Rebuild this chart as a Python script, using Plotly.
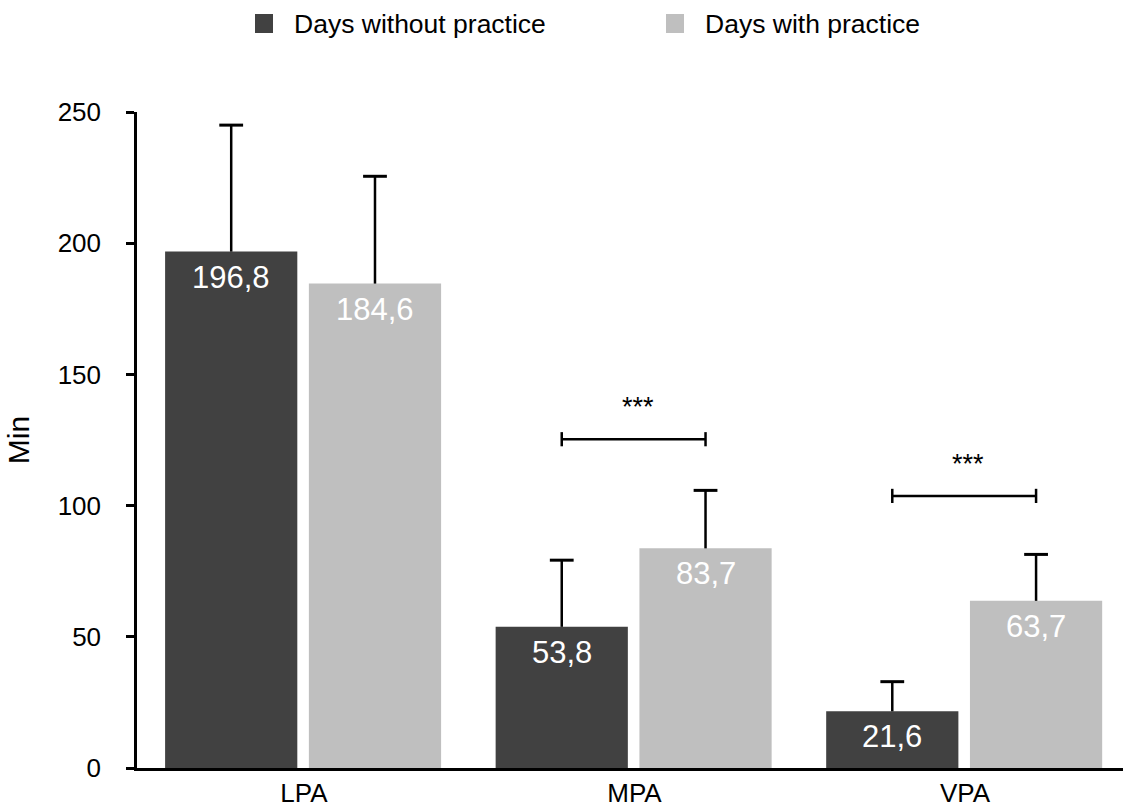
import plotly.graph_objects as go

# Physical activity minutes by intensity, days without vs. with practice
categories = ["LPA", "MPA", "VPA"]
series_names = ["Days without practice", "Days with practice"]
mean_without = [196.8, 53.8, 21.6]
sd_without = [48.2, 25.4, 11.3]
mean_with = [184.6, 83.7, 63.7]
sd_with = [40.9, 22.1, 17.7]

# Significance brackets (category index of the comparison) and their labels
sig_categories = [1, 2]
sig_levels = [125.3, 103.7]
sig_labels = ["***", "***"]

y_ticks = [0, 50, 100, 150, 200, 250]

DARK = "#414141"
LIGHT = "#bfbfbf"
FONT = "Liberation Sans, Arial, Helvetica, sans-serif"

BAR_W = 0.40
OFF_DARK = -0.42
OFF_LIGHT = 0.015

xs = list(range(len(categories)))
x_dark = [x + OFF_DARK + BAR_W / 2 for x in xs]
x_light = [x + OFF_LIGHT + BAR_W / 2 for x in xs]

fig = go.Figure()

for name, vals, color, off in [
    (series_names[0], mean_without, DARK, OFF_DARK),
    (series_names[1], mean_with, LIGHT, OFF_LIGHT),
]:
    fig.add_trace(go.Bar(
        name=name,
        x=xs,
        y=vals,
        width=BAR_W,
        offset=off,
        marker=dict(color=color, line=dict(width=0)),
        showlegend=False,
        hoverinfo="skip",
    ))

# Upper-only error bars: a stem from the bar top plus a cap at mean + SD
for xc, vals, sds in [(x_dark, mean_without, sd_without), (x_light, mean_with, sd_with)]:
    stem_x, stem_y = [], []
    for x, v, s in zip(xc, vals, sds):
        stem_x += [x, x, None]
        stem_y += [v, v + s, None]
    fig.add_trace(go.Scatter(
        x=stem_x, y=stem_y, mode="lines",
        line=dict(color="black", width=2.5),
        showlegend=False, hoverinfo="skip",
    ))
    fig.add_trace(go.Scatter(
        x=xc, y=[v + s for v, s in zip(vals, sds)], mode="markers",
        marker=dict(symbol="line-ew", size=17, line=dict(color="black", width=3)),
        showlegend=False, hoverinfo="skip",
    ))

# Value labels inside the tops of the bars
annotations = []
for xc, vals in [(x_dark, mean_without), (x_light, mean_with)]:
    for x, v in zip(xc, vals):
        annotations.append(dict(
            x=x, y=v, xref="x", yref="y",
            text=f"{v:.1f}".replace(".", ","),
            showarrow=False, yanchor="top", yshift=-6,
            font=dict(family=FONT, size=31, color="white"),
        ))

# Significance brackets between the paired bars
shapes = []
TICK = 2.7
for i, lvl, lab in zip(sig_categories, sig_levels, sig_labels):
    x0, x1 = x_dark[i], x_light[i]
    line = dict(color="black", width=2.5)
    shapes.append(dict(type="line", xref="x", yref="y", x0=x0, x1=x1, y0=lvl, y1=lvl, line=line))
    shapes.append(dict(type="line", xref="x", yref="y", x0=x0, x1=x0, y0=lvl - TICK, y1=lvl + TICK, line=line))
    shapes.append(dict(type="line", xref="x", yref="y", x0=x1, x1=x1, y0=lvl - TICK, y1=lvl + TICK, line=line))
    annotations.append(dict(
        x=(x0 + x1) / 2, y=lvl, xref="x", yref="y", text=lab,
        showarrow=False, yanchor="middle", yshift=32, xshift=4,
        font=dict(family=FONT, size=27, color="black"),
    ))

# Legend drawn above the plot
legend_items = [(series_names[0], DARK, 255), (series_names[1], LIGHT, 666)]
L, R, T, B = 137, 0, 112, 39
PW, PH = 1123 - L - R, 807 - T - B


def px_to_paper_x(px):
    return (px - L) / PW


def py_to_paper_y(py):
    return (807 - B - py) / PH


for name, color, sx in legend_items:
    shapes.append(dict(
        type="rect", xref="paper", yref="paper",
        x0=px_to_paper_x(sx), x1=px_to_paper_x(sx + 18),
        y0=py_to_paper_y(33), y1=py_to_paper_y(14),
        fillcolor=color, line=dict(width=0),
    ))
    annotations.append(dict(
        x=px_to_paper_x(sx + 37), y=py_to_paper_y(24), xref="paper", yref="paper",
        text=name, showarrow=False, xanchor="left", yanchor="middle",
        font=dict(family=FONT, size=26.5, color="black"),
    ))

fig.update_layout(
    width=1123, height=807,
    margin=dict(l=L, r=R, t=T, b=B, pad=0),
    paper_bgcolor="white", plot_bgcolor="white",
    font=dict(family=FONT, size=26, color="black"),
    barmode="overlay",
    shapes=shapes,
    annotations=annotations,
    xaxis=dict(
        range=[-0.505, 2.478],
        tickmode="array", tickvals=xs, ticktext=categories,
        showline=True, linecolor="black", linewidth=2.5,
        ticks="", showgrid=False, zeroline=False,
        tickfont=dict(family=FONT, size=26),
        fixedrange=True,
    ),
    yaxis=dict(
        range=[0, 250],
        tickmode="array", tickvals=y_ticks,
        showline=True, linecolor="black", linewidth=2.5,
        ticks="outside", ticklen=8, tickwidth=2.5, tickcolor="black",
        ticklabelstandoff=20,
        showgrid=False, zeroline=False,
        tickfont=dict(family=FONT, size=26),
        title=dict(text="Min", font=dict(family=FONT, size=30), standoff=20),
        fixedrange=True,
    ),
)

fig.write_html("out.html")
